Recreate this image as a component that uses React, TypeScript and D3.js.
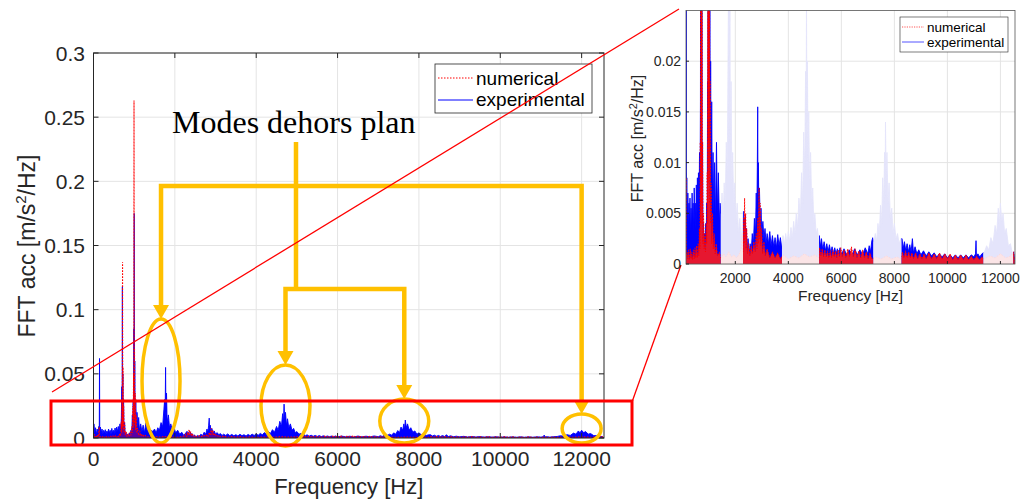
import React from 'react';
import * as d3 from 'd3';

type Pt = [number, number];

// FFT envelope: [frequency Hz, amplitude m/s^2/Hz]
const experimental: Pt[] = [
  [0, 0], [10, 0.011], [30, 0.004], [50, 0.008], [70, 0.003], [90, 0.007], [110, 0.004], [130, 0.009], [142, 0.005], [148, 0.062], [154, 0.005],
  [170, 0.0085], [190, 0.004], [210, 0.007], [230, 0.003], [250, 0.006], [270, 0.004], [290, 0.0065], [310, 0.003], [330, 0.0055], [350, 0.0035],
  [370, 0.007], [390, 0.004], [410, 0.006], [430, 0.003], [450, 0.0075], [470, 0.004], [490, 0.006], [510, 0.0035], [530, 0.0078], [550, 0.004],
  [570, 0.0085], [590, 0.005], [610, 0.009], [630, 0.005], [650, 0.011], [670, 0.006], [685, 0.016], [695, 0.04], [703, 0.012], [710, 0.118],
  [716, 0.03], [722, 0.05], [730, 0.015], [740, 0.03], [750, 0.008], [765, 0.012], [780, 0.003], [800, 0.004], [820, 0.0015], [840, 0.003],
  [860, 0.001], [880, 0.004], [900, 0.002], [920, 0.006], [940, 0.004], [955, 0.018], [965, 0.009], [975, 0.03], [985, 0.012], [992, 0.085],
  [997, 0.02], [1002, 0.175], [1008, 0.03], [1015, 0.06], [1025, 0.015], [1040, 0.03], [1055, 0.01], [1070, 0.02], [1090, 0.008], [1110, 0.016],
  [1130, 0.006], [1160, 0.011], [1190, 0.005], [1220, 0.01], [1250, 0.004], [1290, 0.012], [1320, 0.005], [1360, 0.009], [1400, 0.004], [1430, 0.006],
  [1460, 0.005], [1500, 0.007], [1540, 0.004], [1580, 0.008], [1620, 0.006], [1660, 0.012], [1700, 0.009], [1730, 0.022], [1750, 0.03], [1760, 0.014],
  [1772, 0.055], [1780, 0.02], [1795, 0.035], [1810, 0.012], [1840, 0.018], [1870, 0.008], [1900, 0.011], [1940, 0.006], [1980, 0.008], [2020, 0.004],
  [2070, 0.006], [2120, 0.003], [2170, 0.0045], [2220, 0.002], [2270, 0.004],
  [2300, 0.0052], [2320, 0.002], [2340, 0.0045], [2360, 0.0015], [2380, 0.0048], [2400, 0.002], [2420, 0.0035], [2450, 0.001], [2480, 0.0025],
  [2520, 0.0008], [2560, 0.002], [2600, 0.0012], [2640, 0.003], [2680, 0.0018], [2720, 0.0045], [2760, 0.003], [2790, 0.007], [2810, 0.004],
  [2830, 0.0095], [2845, 0.0155], [2855, 0.006], [2870, 0.01], [2890, 0.005], [2910, 0.0075], [2940, 0.004], [2970, 0.0055], [3000, 0.003],
  [3040, 0.0042], [3080, 0.0025], [3120, 0.0035], [3160, 0.002], [3200, 0.003], [3250, 0.002], [3300, 0.0032], [3350, 0.0018], [3400, 0.0028],
  [3450, 0.0017], [3500, 0.0026], [3550, 0.0016], [3600, 0.0029], [3650, 0.0018], [3700, 0.0026], [3750, 0.0015],
  [3800, 0.0028], [3850, 0.0018], [3900, 0.003], [3950, 0.002], [4000, 0.0032], [4050, 0.0022], [4100, 0.0036], [4150, 0.0025], [4200, 0.0042],
  [4250, 0.003], [4300, 0.005], [4350, 0.0036], [4400, 0.0065], [4450, 0.0045], [4500, 0.009], [4540, 0.006], [4580, 0.013], [4620, 0.009],
  [4650, 0.019], [4670, 0.012], [4685, 0.0264], [4700, 0.014], [4720, 0.02], [4745, 0.01], [4770, 0.015], [4800, 0.008], [4840, 0.011],
  [4880, 0.006], [4920, 0.0075], [4960, 0.004], [5000, 0.005], [5050, 0.003], [5100, 0.0035], [5150, 0.002],
  [5170, 0.0028], [5210, 0.0017], [5250, 0.0025], [5300, 0.0014], [5350, 0.0022], [5400, 0.0013], [5450, 0.002], [5500, 0.0012], [5550, 0.0019],
  [5600, 0.0011], [5650, 0.0017], [5700, 0.001], [5750, 0.0016], [5800, 0.001], [5850, 0.0015], [5900, 0.0009], [5950, 0.0016], [6000, 0.0009],
  [6100, 0.0015], [6200, 0.0009], [6300, 0.0014], [6400, 0.0008], [6500, 0.0015], [6600, 0.0009], [6700, 0.0014], [6800, 0.0009], [6900, 0.0016],
  [7000, 0.001], [7050, 0.0018], [7100, 0.0012], [7150, 0.0023], [7190, 0.0026],
  [7230, 0.0022], [7280, 0.003], [7330, 0.0022], [7380, 0.004], [7430, 0.003], [7480, 0.0058], [7520, 0.004], [7560, 0.0085], [7600, 0.006],
  [7630, 0.011], [7650, 0.0068], [7665, 0.014], [7690, 0.008], [7720, 0.011], [7760, 0.006], [7800, 0.008], [7850, 0.0045], [7900, 0.0055],
  [7950, 0.003], [8000, 0.004], [8060, 0.0025], [8120, 0.003], [8180, 0.002], [8240, 0.0025],
  [8290, 0.0025], [8330, 0.0015], [8380, 0.0022], [8430, 0.0013], [8480, 0.002], [8530, 0.0012], [8580, 0.0019], [8630, 0.0012], [8680, 0.0025],
  [8720, 0.0011], [8780, 0.0017], [8850, 0.001], [8920, 0.0014], [9000, 0.0009], [9100, 0.0013], [9200, 0.0008], [9300, 0.0012], [9400, 0.0008],
  [9500, 0.0011], [9600, 0.0007], [9700, 0.001], [9800, 0.0007], [9900, 0.001], [10000, 0.0006], [10100, 0.0009], [10200, 0.0006], [10300, 0.0009],
  [10400, 0.0006], [10500, 0.0009], [10600, 0.0006], [10700, 0.0009], [10800, 0.0006], [10900, 0.0009], [11000, 0.0007], [11060, 0.001],
  [11080, 0.0023], [11095, 0.0008], [11150, 0.001], [11220, 0.0007], [11300, 0.001],
  [11400, 0.0012], [11480, 0.0018], [11560, 0.0014], [11640, 0.0026], [11720, 0.002], [11800, 0.0038], [11860, 0.003], [11920, 0.0055],
  [11960, 0.004], [12000, 0.006], [12050, 0.0042], [12100, 0.005], [12160, 0.003], [12220, 0.0035], [12300, 0.0018], [12380, 0.002],
  [12450, 0.001], [12500, 0.0012], [12530, 0.0006], [12550, 0],
];

const numerical: Pt[] = [
  [0, 0], [20, 0.003], [40, 0.0008], [60, 0.002], [80, 0.0006], [100, 0.0018], [120, 0.0008], [140, 0.0085], [150, 0.001], [180, 0.0012],
  [210, 0.0005], [240, 0.0014], [270, 0.0004], [300, 0.0015], [330, 0.0005], [360, 0.0012], [390, 0.0004], [420, 0.0014], [450, 0.0005],
  [480, 0.0016], [510, 0.0006], [540, 0.0018], [570, 0.0006], [600, 0.002], [625, 0.0008], [645, 0.0035], [665, 0.0015], [680, 0.012],
  [692, 0.004], [700, 0.03], [707, 0.008], [714, 0.137], [720, 0.01], [727, 0.055], [734, 0.006], [742, 0.025], [752, 0.004], [765, 0.012],
  [780, 0.002], [800, 0.005], [825, 0.0015], [850, 0.003], [875, 0.0012], [900, 0.004], [920, 0.002], [940, 0.009], [955, 0.004], [965, 0.025],
  [975, 0.008], [985, 0.05], [991, 0.012], [996, 0.263], [1001, 0.015], [1008, 0.07], [1016, 0.01], [1026, 0.035], [1038, 0.006], [1050, 0.018],
  [1065, 0.004], [1085, 0.008], [1110, 0.002], [1140, 0.005], [1170, 0.0015], [1200, 0.003], [1240, 0.001], [1280, 0.002], [1330, 0.0008],
  [1400, 0.0012], [1450, 0.0006], [1550, 0.001], [1650, 0.0007], [1750, 0.0012], [1850, 0.0007], [1950, 0.0009], [2050, 0.0006], [2150, 0.001],
  [2220, 0.0015], [2260, 0.003], [2290, 0.0012], [2310, 0.0045], [2330, 0.002], [2350, 0.0065], [2370, 0.0025], [2390, 0.005], [2410, 0.0015],
  [2430, 0.0035], [2460, 0.001], [2500, 0.002], [2550, 0.0008], [2600, 0.0018], [2650, 0.001], [2700, 0.0022], [2750, 0.0012], [2790, 0.003],
  [2820, 0.0015], [2850, 0.0045], [2870, 0.002], [2895, 0.0075], [2915, 0.0025], [2935, 0.006], [2960, 0.0018], [2990, 0.0035], [3030, 0.001],
  [3080, 0.0022], [3130, 0.0008], [3200, 0.0015], [3300, 0.0006], [3400, 0.0012], [3500, 0.0006], [3600, 0.0011], [3700, 0.0005],
  [3800, 0.0009], [4000, 0.0005], [4200, 0.0008], [4400, 0.0006], [4600, 0.001], [4800, 0.0007], [5000, 0.0009], [5150, 0.0006],
  [5180, 0.0016], [5230, 0.0008], [5280, 0.0015], [5330, 0.0007], [5380, 0.0014], [5430, 0.0007], [5480, 0.0013], [5530, 0.0006], [5580, 0.0013],
  [5630, 0.0006], [5680, 0.0014], [5730, 0.0007], [5780, 0.0013], [5830, 0.0006], [5880, 0.0014], [5930, 0.0007], [5980, 0.0016], [6030, 0.0007],
  [6100, 0.0014], [6170, 0.0006], [6240, 0.0015], [6310, 0.0007], [6380, 0.0017], [6450, 0.0007], [6520, 0.0015], [6590, 0.0006], [6660, 0.0013],
  [6730, 0.0006], [6800, 0.0014], [6870, 0.0006], [6940, 0.0012], [7010, 0.0005], [7080, 0.0011], [7150, 0.0005],
  [7300, 0.0007], [7500, 0.0005], [7700, 0.0008], [7900, 0.0005], [8100, 0.0007], [8250, 0.0005],
  [8300, 0.0012], [8360, 0.0006], [8420, 0.0013], [8480, 0.0006], [8540, 0.0012], [8600, 0.0006], [8660, 0.0011], [8720, 0.0005], [8800, 0.0011],
  [8880, 0.0005], [8960, 0.001], [9040, 0.0005], [9120, 0.001], [9200, 0.0005], [9300, 0.0011], [9400, 0.0005], [9500, 0.001], [9600, 0.0005],
  [9700, 0.0011], [9800, 0.0005], [9900, 0.001], [10000, 0.0005], [10100, 0.001], [10200, 0.0004], [10300, 0.0009], [10400, 0.0004],
  [10500, 0.0009], [10600, 0.0004], [10700, 0.0009], [10800, 0.0004], [10900, 0.0008], [11000, 0.0004], [11100, 0.0008], [11200, 0.0004],
  [11300, 0.0007], [11400, 0.0005], [11600, 0.0008], [11800, 0.0006], [12000, 0.001], [12200, 0.0006], [12400, 0.0008], [12500, 0.0012], [12550, 0],
];

// frequency bands faded in the zoomed view
const modeBands: Pt[] = [[1450, 2290], [3760, 5160], [7200, 8270], [11350, 12480]];

const xTicks = [0, 2000, 4000, 6000, 8000, 10000, 12000];
const yTicksMain = [0, 0.05, 0.1, 0.15, 0.2, 0.25, 0.3];
const xTicksInset = [2000, 4000, 6000, 8000, 10000, 12000];
const yTicksInset = [0, 0.005, 0.01, 0.015, 0.02];
const legendLabels = ['numerical', 'experimental'];

// out-of-plane modes: ellipse centre and radii in [Hz, amplitude]
const modeCenters: Pt[] = [[1660, 0.0444], [4720, 0.0253], [7640, 0.0132], [12000, 0.0074]];
const modeRadii: Pt[] = [[467, 0.0483], [602, 0.0316], [602, 0.0171], [479, 0.0113]];

const FONT = '"Liberation Sans", Arial, Helvetica, sans-serif';
const YELLOW = '#FFC000';
const AX = '#262626';
const GRID = '#e4e4e4';

const M = { left: 93.5, right: 604, top: 53, bottom: 438 };
const I = { left: 686, right: 1015, top: 10.5, bottom: 264 };

export default function App() {
  const x = d3.scaleLinear().domain([0, 12550]).range([M.left, M.right]);
  const y = d3.scaleLinear().domain([0, 0.3]).range([M.bottom, M.top]);
  const xi = d3.scaleLinear().domain([140, 12550]).range([I.left, I.right]);
  const yi = d3.scaleLinear().domain([0, 0.025]).range([I.bottom, I.top]);

  const areaM = d3.area<Pt>().x(d => x(d[0])).y0(y(0)).y1(d => y(d[1]));
  const lineM = d3.line<Pt>().x(d => x(d[0])).y(d => y(d[1]));
  const areaI = d3.area<Pt>().x(d => xi(d[0])).y0(yi(0)).y1(d => yi(d[1]));
  const lineI = d3.line<Pt>().x(d => xi(d[0])).y(d => yi(d[1]));

  // complement of the faded bands inside the inset domain
  const dom = xi.domain();
  const normalRanges: Pt[] = [];
  let start = dom[0];
  modeBands.forEach(b => { normalRanges.push([start, b[0]]); start = b[1]; });
  normalRanges.push([start, dom[1]]);

  // annotation levels (amplitude units of the main axes)
  const stemHz = 4978;
  const stemTop = y(0.2307);
  const barHigh = y(0.1964);
  const barLow = y(0.1161);
  const ex = modeCenters.map(c => x(c[0]));
  const eTop = modeCenters.map((c, i) => y(c[1] + modeRadii[i][1]));
  const ah = 14, aw = 8;
  const arrow = (cx: number, tip: number) => `M${cx - aw},${tip - ah}L${cx + aw},${tip - ah}L${cx},${tip}Z`;

  return (
    <svg width={1027} height={500} style={{ position: 'absolute', left: 0, top: 0, background: '#fff' }} fontFamily={FONT}>
      <defs>
        <clipPath id="mainClip"><rect x={M.left} y={M.top} width={M.right - M.left} height={M.bottom - M.top} /></clipPath>
        <clipPath id="inNormal">
          {normalRanges.map((r, i) => (
            <rect key={i} x={xi(r[0])} y={I.top} width={xi(r[1]) - xi(r[0])} height={I.bottom - I.top} />
          ))}
        </clipPath>
        <clipPath id="inBand">
          {modeBands.map((r, i) => (
            <rect key={i} x={xi(r[0])} y={I.top} width={xi(r[1]) - xi(r[0])} height={I.bottom - I.top} />
          ))}
        </clipPath>
      </defs>
      <rect width={1027} height={500} fill="#fff" />

      {/* main axes */}
      <g>
        {xTicks.map(t => <line key={'gx' + t} x1={x(t)} x2={x(t)} y1={M.top} y2={M.bottom} stroke={GRID} />)}
        {yTicksMain.map(t => <line key={'gy' + t} x1={M.left} x2={M.right} y1={y(t)} y2={y(t)} stroke={GRID} />)}
        <g clipPath="url(#mainClip)">
          <path d={areaM(experimental) || ''} fill="#0000ff" />
          <path d={lineM(experimental) || ''} fill="none" stroke="#0000ff" strokeWidth={0.9} />
          <path d={areaM(numerical) || ''} fill="#ff0000" fillOpacity={0.35} />
          <path d={lineM(numerical) || ''} fill="none" stroke="#ff0000" strokeWidth={1.1} strokeDasharray="1.5 1.5" />
        </g>
        <rect x={M.left} y={M.top} width={M.right - M.left} height={M.bottom - M.top} fill="none" stroke={AX} strokeWidth={1} />
        {xTicks.map(t => (
          <g key={'tx' + t}>
            <line x1={x(t)} x2={x(t)} y1={M.bottom} y2={M.bottom - 5} stroke={AX} />
            <line x1={x(t)} x2={x(t)} y1={M.top} y2={M.top + 5} stroke={AX} />
            <text x={x(t)} y={466} textAnchor="middle" fontSize={21} fill={AX}>{t}</text>
          </g>
        ))}
        {yTicksMain.map(t => (
          <g key={'ty' + t}>
            <line x1={M.left} x2={M.left + 5} y1={y(t)} y2={y(t)} stroke={AX} />
            <line x1={M.right} x2={M.right - 5} y1={y(t)} y2={y(t)} stroke={AX} />
            <text x={85} y={y(t)} dy="0.36em" textAnchor="end" fontSize={21} fill={AX}>{String(t)}</text>
          </g>
        ))}
        <text x={(M.left + M.right) / 2} y={494} textAnchor="middle" fontSize={22} fill={AX}>Frequency [Hz]</text>
        <text transform="translate(35,246) rotate(-90)" textAnchor="middle" fontSize={23} fill={AX}>
          FFT acc [m/s<tspan fontSize={15} dy={-9}>2</tspan><tspan dy={9}>/Hz]</tspan>
        </text>
        {/* legend */}
        <rect x={435} y={64} width={157} height={49} fill="#fff" stroke={AX} strokeWidth={0.8} />
        <line x1={438} x2={473} y1={78} y2={78} stroke="#ff0000" strokeWidth={1} strokeDasharray="1.5 1.5" />
        <line x1={438} x2={473} y1={100} y2={100} stroke="#0000ff" strokeWidth={1} />
        <text x={476} y={85} fontSize={19} fill="#000">{legendLabels[0]}</text>
        <text x={476} y={106} fontSize={19} fill="#000">{legendLabels[1]}</text>
      </g>

      {/* annotation */}
      <text x={x(1930)} y={133} fontFamily='"Liberation Serif", "Times New Roman", serif' fontSize={32} fill="#000">Modes dehors plan</text>
      <g stroke={YELLOW} strokeWidth={4.5} fill="none" strokeLinejoin="miter">
        <path d={`M${x(stemHz)},${stemTop}V${barLow}`} />
        <path d={`M${ex[0]},${eTop[0] - ah}V${barHigh}H${ex[3]}V${eTop[3] - ah}`} />
        <path d={`M${ex[1]},${eTop[1] - ah}V${barLow}H${ex[2]}V${eTop[2] - ah}`} />
        {modeCenters.map((c, i) => (
          <ellipse key={i} cx={x(c[0])} cy={y(c[1])} rx={x(modeRadii[i][0]) - x(0)} ry={y(0) - y(modeRadii[i][1])} strokeWidth={3.5} />
        ))}
      </g>
      {modeCenters.map((c, i) => <path key={'a' + i} d={arrow(ex[i], eTop[i])} fill={YELLOW} />)}

      {/* zoom callout */}
      <rect x={51} y={401} width={581} height={44} fill="none" stroke="#ff0000" strokeWidth={3} />
      <line x1={52} y1={392} x2={679} y2={9} stroke="#ff0000" strokeWidth={1.3} />
      <line x1={632} y1={402} x2={681} y2={265} stroke="#ff0000" strokeWidth={1.3} />

      {/* inset */}
      <g>
        <rect x={I.left} y={I.top} width={I.right - I.left} height={I.bottom - I.top} fill="#fff" />
        {xTicksInset.map(t => <line key={'igx' + t} x1={xi(t)} x2={xi(t)} y1={I.top} y2={I.bottom} stroke={GRID} />)}
        {yTicksInset.map(t => <line key={'igy' + t} x1={I.left} x2={I.right} y1={yi(t)} y2={yi(t)} stroke={GRID} />)}
        <g clipPath="url(#inBand)">
          <path d={areaI(experimental) || ''} fill="#e4e4fb" />
          <path d={lineI(experimental) || ''} fill="none" stroke="#e4e4fb" strokeWidth={0.9} />
          <path d={areaI(numerical) || ''} fill="#fbe4e6" />
          <path d={lineI(numerical) || ''} fill="none" stroke="#fbd8dc" strokeWidth={1} strokeDasharray="1.5 1.5" />
        </g>
        <g clipPath="url(#inNormal)">
          <path d={areaI(experimental) || ''} fill="#0000ff" />
          <path d={lineI(experimental) || ''} fill="none" stroke="#0000ff" strokeWidth={0.9} />
          <path d={areaI(numerical) || ''} fill="#ff1a1a" fillOpacity={0.9} />
          <path d={lineI(numerical) || ''} fill="none" stroke="#ff0000" strokeWidth={1} strokeDasharray="1.5 1.5" />
        </g>
        <rect x={I.left} y={I.top} width={I.right - I.left} height={I.bottom - I.top} fill="none" stroke="#555" strokeWidth={0.8} />
        {xTicksInset.map(t => (
          <g key={'itx' + t}>
            <line x1={xi(t)} x2={xi(t)} y1={I.bottom} y2={I.bottom - 3} stroke={AX} />
            <text x={xi(t)} y={283} textAnchor="middle" fontSize={14} fill={AX}>{t}</text>
          </g>
        ))}
        {yTicksInset.map(t => (
          <g key={'ity' + t}>
            <line x1={I.left} x2={I.left + 3} y1={yi(t)} y2={yi(t)} stroke={AX} />
            <text x={681} y={yi(t)} dy="0.36em" textAnchor="end" fontSize={14} fill={AX}>{String(t)}</text>
          </g>
        ))}
        <text x={(I.left + I.right) / 2} y={301} textAnchor="middle" fontSize={15.5} fill={AX}>Frequency [Hz]</text>
        <text transform="translate(643,138.5) rotate(-90)" textAnchor="middle" fontSize={16} fill={AX}>
          FFT acc [m/s<tspan fontSize={11} dy={-6}>2</tspan><tspan dy={6}>/Hz]</tspan>
        </text>
        <rect x={900} y={17} width={108} height={35} fill="#fff" stroke={AX} strokeWidth={0.6} />
        <line x1={902} x2={924} y1={27} y2={27} stroke="#ff5555" strokeWidth={1} strokeDasharray="1.2 1.2" />
        <line x1={902} x2={924} y1={42} y2={42} stroke="#5555ff" strokeWidth={1} />
        <text x={927} y={32} fontSize={13.5} fill="#000">{legendLabels[0]}</text>
        <text x={927} y={47} fontSize={13.5} fill="#000">{legendLabels[1]}</text>
      </g>
    </svg>
  );
}
